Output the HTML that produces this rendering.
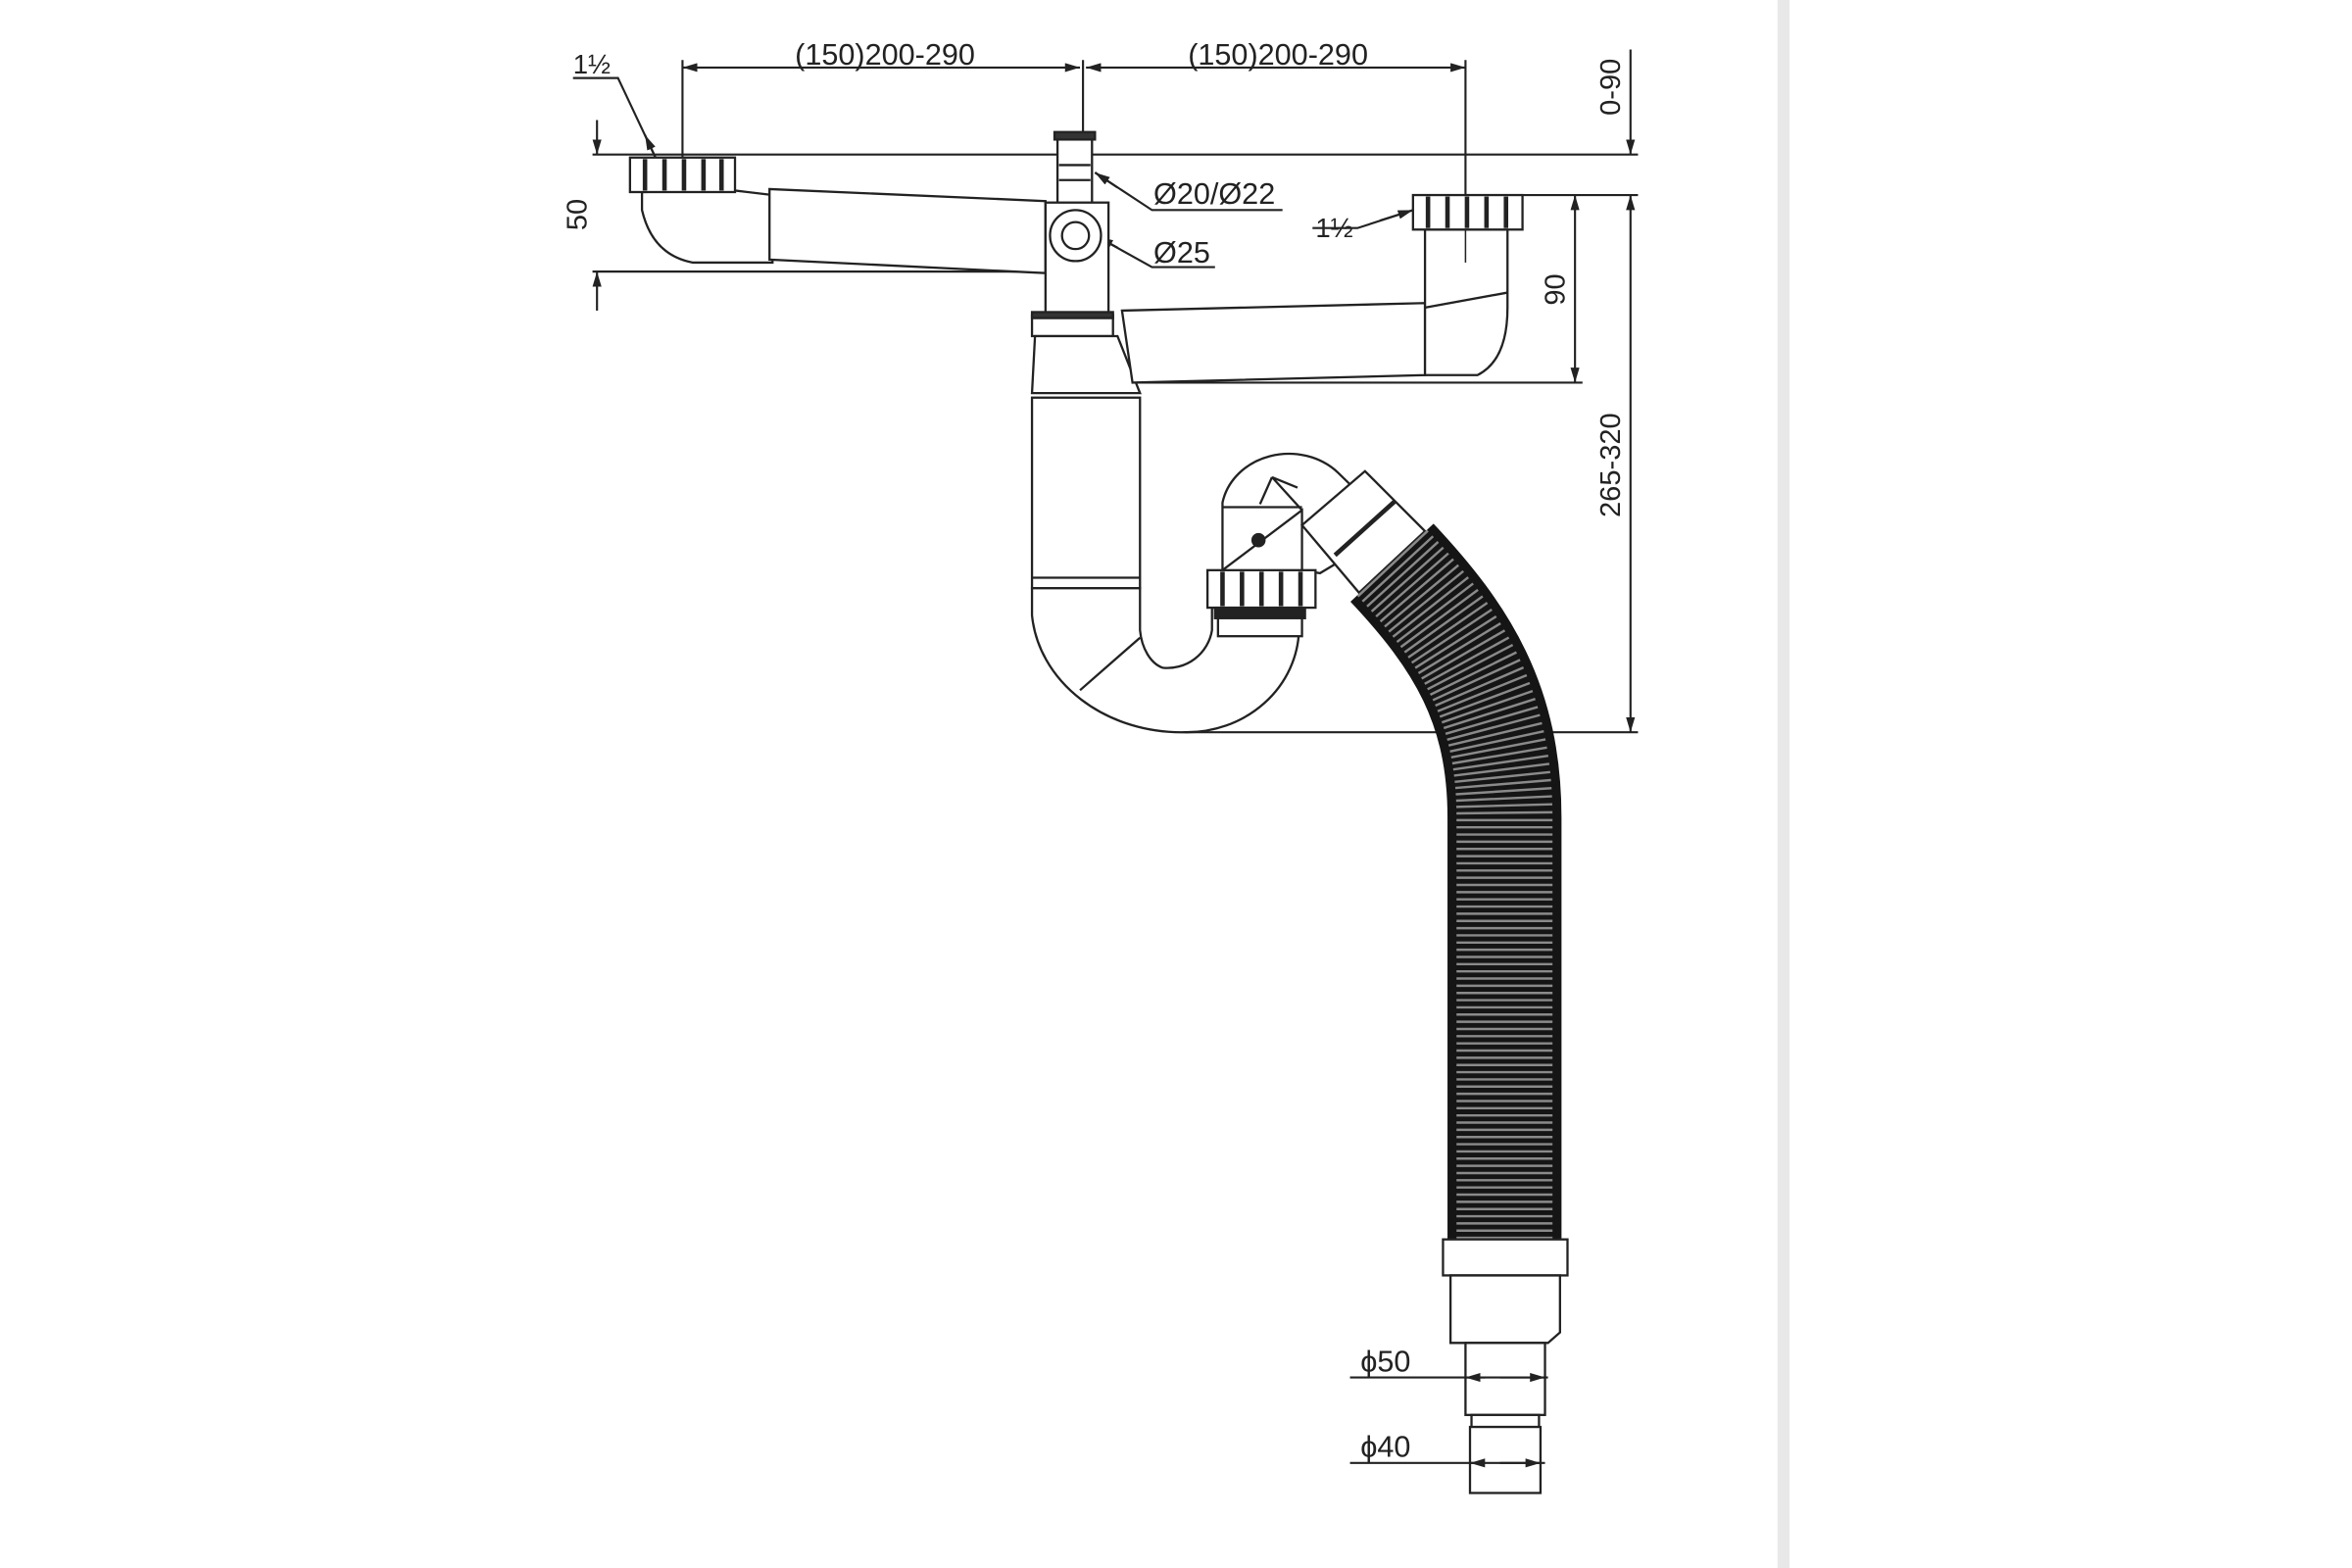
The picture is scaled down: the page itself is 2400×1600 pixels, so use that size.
<!DOCTYPE html>
<html><head><meta charset="utf-8"><style>
html,body{margin:0;padding:0;background:#fff;width:2400px;height:1600px;overflow:hidden}
svg{display:block}
text{font-family:"Liberation Sans",sans-serif;fill:#222}
</style></head><body>
<svg width="2400" height="1600" viewBox="0 0 1568 1045" preserveAspectRatio="none" xmlns="http://www.w3.org/2000/svg">
<defs>
<marker id="a" viewBox="0 0 10 6" refX="10" refY="3" markerWidth="10" markerHeight="6" orient="auto-start-reverse" markerUnits="userSpaceOnUse"><path d="M0,0 L10,3 L0,6 z" fill="#222"/></marker>
</defs>
<rect x="1185" y="0" width="8" height="1045" fill="#e8e8e8"/>
<g stroke="#222" stroke-width="1.4" fill="none">
<line x1="455" y1="45" x2="720" y2="45" marker-start="url(#a)" marker-end="url(#a)"/>
<line x1="724" y1="45" x2="977" y2="45" marker-start="url(#a)" marker-end="url(#a)"/>
<line x1="455" y1="40" x2="455" y2="130"/>
<line x1="722" y1="40" x2="722" y2="95"/>
<line x1="977" y1="40" x2="977" y2="175"/>
<line x1="395" y1="103" x2="1092" y2="103"/>
<line x1="1015" y1="130" x2="1092" y2="130"/>
<line x1="395" y1="181" x2="700" y2="181"/>
<line x1="398" y1="80" x2="398" y2="103" marker-end="url(#a)"/>
<line x1="398" y1="207" x2="398" y2="181" marker-end="url(#a)"/>
<line x1="1087" y1="33" x2="1087" y2="103" marker-end="url(#a)"/>
<line x1="1087" y1="130" x2="1087" y2="488" marker-start="url(#a)" marker-end="url(#a)"/>
<line x1="1050" y1="130" x2="1050" y2="255" marker-start="url(#a)" marker-end="url(#a)"/>
<line x1="750" y1="255" x2="1055" y2="255"/>
<line x1="790" y1="488" x2="1092" y2="488"/>
<polyline points="382,52 412,52 437,105" />
<line x1="437" y1="105" x2="430" y2="90" marker-end="url(#a)"/>
<polyline points="875,152 905,152 942,140"/>
<line x1="920" y1="147" x2="942" y2="140" marker-end="url(#a)"/>
<polyline points="855,140 768,140 730,115"/>
<line x1="745" y1="125" x2="730" y2="115" marker-end="url(#a)"/>
<polyline points="810,178 768,178 732,158"/>
<line x1="745" y1="165" x2="732" y2="158" marker-end="url(#a)"/>
</g>
<g stroke="#222" stroke-width="1.5" fill="#fff">
<path d="M428,128 L428,140 Q435,170 462,175 L515,175 L515,130 L490,127 Z"/>
<path d="M513,126 L697,134 L697,182 L513,173 Z"/>
<rect x="420" y="105" width="70" height="23"/>
<g stroke-width="3"><line x1="430" y1="106" x2="430" y2="127"/><line x1="443" y1="106" x2="443" y2="127"/><line x1="456" y1="106" x2="456" y2="127"/><line x1="469" y1="106" x2="469" y2="127"/><line x1="481" y1="106" x2="481" y2="127"/></g>
<rect x="705" y="92" width="23" height="45"/>
<rect x="703" y="88" width="27" height="5" fill="#333"/>
<line x1="706" y1="110" x2="727" y2="110"/><line x1="706" y1="120" x2="727" y2="120"/>
<rect x="697" y="135" width="42" height="75"/>
<circle cx="717" cy="157" r="17"/><circle cx="717" cy="157" r="9"/>
<rect x="688" y="210" width="54" height="14"/>
<rect x="688" y="208" width="54" height="4" fill="#333"/>
<path d="M690,224 L745,224 L760,262 L688,262 Z"/>
<path d="M748,207 L950,202 L950,250 L755,255 Z"/>
<path d="M950,200 L950,250 L985,250 Q1005,240 1005,205 L1005,153 L950,153 Z"/>
<line x1="950" y1="205" x2="1005" y2="195"/>
<rect x="942" y="130" width="73" height="23"/>
<g stroke-width="3"><line x1="952" y1="131" x2="952" y2="152"/><line x1="965" y1="131" x2="965" y2="152"/><line x1="978" y1="131" x2="978" y2="152"/><line x1="991" y1="131" x2="991" y2="152"/><line x1="1004" y1="131" x2="1004" y2="152"/></g>
<line x1="977" y1="153" x2="977" y2="175" stroke-width="1"/>
<rect x="688" y="265" width="72" height="127"/>
<line x1="688" y1="385" x2="760" y2="385"/>
<path d="M688,392 L688,410 A100,85 0 0 0 790,488 A75,70 0 0 0 866,420 L866,405 L808,405 L808,420 A30,30 0 0 1 775,445 A20,30 0 0 1 760,420 L760,392 Z"/>
<line x1="720" y1="460" x2="760" y2="425"/>
<path d="M815,380 L815,335 A45,40 0 0 1 892,315 L930,352 L880,382 L868,380 L868,340 Z"/>
<line x1="815" y1="338" x2="868" y2="338"/>
<path d="M848,318 L840,336 M848,318 L868,340 M848,318 L865,325"/>
<circle cx="839" cy="360" r="4" fill="#222"/>
<rect x="805" y="380" width="72" height="25"/>
<g stroke-width="3"><line x1="815" y1="381" x2="815" y2="404"/><line x1="828" y1="381" x2="828" y2="404"/><line x1="841" y1="381" x2="841" y2="404"/><line x1="854" y1="381" x2="854" y2="404"/><line x1="867" y1="381" x2="867" y2="404"/></g>
<rect x="810" y="405" width="60" height="7" fill="#222"/>
<rect x="812" y="412" width="56" height="12"/>
<path d="M868,350 L910,314 L950,354 L906,395 Z"/>
<line x1="890" y1="370" x2="930" y2="334" stroke-width="3"/>
</g>
<path d="M928,375 C975,425 1003,470 1003,545 L1003,828" stroke="#151515" stroke-width="76" fill="none"/>
<path d="M928,375 C975,425 1003,470 1003,545 L1003,828" stroke="#8a8a8a" stroke-width="64" fill="none" stroke-dasharray="1.6 3.2"/>
<g stroke="#222" stroke-width="1.5" fill="#fff">
<rect x="962" y="826" width="83" height="24"/>
<path d="M967,850 L1040,850 L1040,888 L1032,895 L967,895 Z"/>
<rect x="977" y="895" width="53" height="48"/>
<rect x="981" y="943" width="45" height="8"/>
<rect x="980" y="951" width="47" height="44"/>
</g>
<g stroke="#222" stroke-width="1.4" fill="none">
<line x1="900" y1="918" x2="1032" y2="918"/>
<line x1="1000" y1="918" x2="1030" y2="918" marker-end="url(#a)"/>
<line x1="990" y1="918" x2="977" y2="918" marker-end="url(#a)"/>
<line x1="900" y1="975" x2="1030" y2="975"/>
<line x1="1000" y1="975" x2="1027" y2="975" marker-end="url(#a)"/>
<line x1="990" y1="975" x2="980" y2="975" marker-end="url(#a)"/>
</g>
<text x="590" y="43" font-size="20" text-anchor="middle">(150)200-290</text>
<text x="852" y="43" font-size="20" text-anchor="middle">(150)200-290</text>
<text x="382" y="49" font-size="18">1½</text>
<text x="877" y="158" font-size="18">1½</text>
<text x="769" y="136" font-size="20">Ø20/Ø22</text>
<text x="769" y="175" font-size="20">Ø25</text>
<text transform="translate(391,143) rotate(-90)" font-size="19" text-anchor="middle">50</text>
<text transform="translate(1080,58) rotate(-90)" font-size="19" text-anchor="middle">0-90</text>
<text transform="translate(1043,193) rotate(-90)" font-size="19" text-anchor="middle">90</text>
<text transform="translate(1080,310) rotate(-90)" font-size="19" text-anchor="middle">265-320</text>
<text x="907" y="914" font-size="20">ϕ50</text>
<text x="907" y="971" font-size="20">ϕ40</text>
</svg>
</body></html>
